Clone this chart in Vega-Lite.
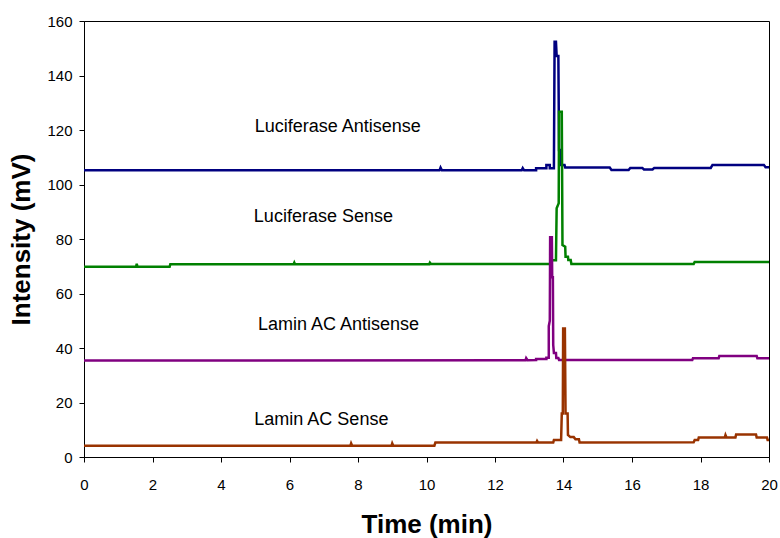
{
  "$schema": "https://vega.github.io/schema/vega-lite/v6.json",
  "width": 685,
  "height": 436,
  "autosize": {"type": "none"},
  "padding": {"left": 84, "top": 21, "right": 11, "bottom": 81},
  "background": "white",
  "config": {
    "font": "Liberation Sans",
    "view": {"stroke": "black", "strokeWidth": 1},
    "axis": {"grid": false, "domainColor": "black", "tickColor": "black", "labelColor": "black", "titleColor": "black", "labelFont": "Liberation Sans", "titleFont": "Liberation Sans"}
  },
  "datasets": {
    "lines": [
      {"series": "LA", "t": 0, "v": 105.2}, {"series": "LA", "t": 10.38, "v": 105.2}, {"series": "LA", "t": 10.41, "v": 106.2}, {"series": "LA", "t": 10.45, "v": 105.2},
      {"series": "LA", "t": 12.78, "v": 105.2}, {"series": "LA", "t": 12.81, "v": 106.0}, {"series": "LA", "t": 12.85, "v": 105.2},
      {"series": "LA", "t": 13.2, "v": 105.2}, {"series": "LA", "t": 13.2, "v": 106.0}, {"series": "LA", "t": 13.5, "v": 106.0}, {"series": "LA", "t": 13.5, "v": 107.2}, {"series": "LA", "t": 13.6, "v": 107.2}, {"series": "LA", "t": 13.6, "v": 106.0},
      {"series": "LA", "t": 13.72, "v": 106.0}, {"series": "LA", "t": 13.74, "v": 152.4}, {"series": "LA", "t": 13.78, "v": 152.4}, {"series": "LA", "t": 13.8, "v": 147.2}, {"series": "LA", "t": 13.85, "v": 147.2},
      {"series": "LA", "t": 13.87, "v": 112.7}, {"series": "LA", "t": 13.92, "v": 112.7}, {"series": "LA", "t": 13.93, "v": 107.2}, {"series": "LA", "t": 14.03, "v": 107.2}, {"series": "LA", "t": 14.05, "v": 106.2},
      {"series": "LA", "t": 15.35, "v": 106.2}, {"series": "LA", "t": 15.4, "v": 105.3}, {"series": "LA", "t": 15.9, "v": 105.3}, {"series": "LA", "t": 15.95, "v": 106.1}, {"series": "LA", "t": 16.3, "v": 106.1}, {"series": "LA", "t": 16.35, "v": 105.5}, {"series": "LA", "t": 16.6, "v": 105.5}, {"series": "LA", "t": 16.65, "v": 106.1},
      {"series": "LA", "t": 18.3, "v": 106.1}, {"series": "LA", "t": 18.35, "v": 107.2}, {"series": "LA", "t": 19.85, "v": 107.2}, {"series": "LA", "t": 19.9, "v": 106.3}, {"series": "LA", "t": 20, "v": 106.3},

      {"series": "LS", "t": 0, "v": 69.8}, {"series": "LS", "t": 1.52, "v": 69.8}, {"series": "LS", "t": 1.54, "v": 70.9}, {"series": "LS", "t": 1.56, "v": 69.8}, {"series": "LS", "t": 2.5, "v": 69.8}, {"series": "LS", "t": 2.52, "v": 70.7},
      {"series": "LS", "t": 6.12, "v": 70.7}, {"series": "LS", "t": 6.14, "v": 71.3}, {"series": "LS", "t": 6.16, "v": 70.7}, {"series": "LS", "t": 10.08, "v": 70.7}, {"series": "LS", "t": 10.1, "v": 71.3}, {"series": "LS", "t": 10.13, "v": 70.8},
      {"series": "LS", "t": 13.62, "v": 70.8}, {"series": "LS", "t": 13.64, "v": 72.2}, {"series": "LS", "t": 13.78, "v": 72.2}, {"series": "LS", "t": 13.8, "v": 91.3}, {"series": "LS", "t": 13.86, "v": 93.1},
      {"series": "LS", "t": 13.87, "v": 126.7}, {"series": "LS", "t": 13.95, "v": 126.7}, {"series": "LS", "t": 13.97, "v": 77.8}, {"series": "LS", "t": 14.05, "v": 77.2}, {"series": "LS", "t": 14.06, "v": 73.5}, {"series": "LS", "t": 14.13, "v": 73.5}, {"series": "LS", "t": 14.14, "v": 72.3}, {"series": "LS", "t": 14.21, "v": 72.3}, {"series": "LS", "t": 14.23, "v": 70.8},
      {"series": "LS", "t": 17.8, "v": 70.8}, {"series": "LS", "t": 17.83, "v": 71.6}, {"series": "LS", "t": 20, "v": 71.6},

      {"series": "LAA", "t": 0, "v": 35.4}, {"series": "LAA", "t": 12.89, "v": 35.5}, {"series": "LAA", "t": 12.91, "v": 36.3}, {"series": "LAA", "t": 12.95, "v": 35.5},
      {"series": "LAA", "t": 13.2, "v": 35.6}, {"series": "LAA", "t": 13.2, "v": 36.0}, {"series": "LAA", "t": 13.5, "v": 36.0}, {"series": "LAA", "t": 13.5, "v": 36.4}, {"series": "LAA", "t": 13.57, "v": 36.4},
      {"series": "LAA", "t": 13.57, "v": 48.0}, {"series": "LAA", "t": 13.6, "v": 50.0}, {"series": "LAA", "t": 13.61, "v": 80.6}, {"series": "LAA", "t": 13.66, "v": 80.6}, {"series": "LAA", "t": 13.67, "v": 66.0}, {"series": "LAA", "t": 13.69, "v": 66.0},
      {"series": "LAA", "t": 13.7, "v": 41.1}, {"series": "LAA", "t": 13.72, "v": 38.2}, {"series": "LAA", "t": 13.78, "v": 38.2}, {"series": "LAA", "t": 13.79, "v": 36.3}, {"series": "LAA", "t": 13.85, "v": 36.3}, {"series": "LAA", "t": 13.87, "v": 35.6},
      {"series": "LAA", "t": 17.76, "v": 35.6}, {"series": "LAA", "t": 17.78, "v": 36.2}, {"series": "LAA", "t": 18.53, "v": 36.2}, {"series": "LAA", "t": 18.55, "v": 37.1}, {"series": "LAA", "t": 19.64, "v": 37.1}, {"series": "LAA", "t": 19.66, "v": 36.2}, {"series": "LAA", "t": 20, "v": 36.2},

      {"series": "LACS", "t": 0, "v": 4.15}, {"series": "LACS", "t": 7.78, "v": 4.15}, {"series": "LACS", "t": 7.8, "v": 5.0}, {"series": "LACS", "t": 7.83, "v": 4.15}, {"series": "LACS", "t": 8.98, "v": 4.15}, {"series": "LACS", "t": 9.0, "v": 5.0}, {"series": "LACS", "t": 9.03, "v": 4.15},
      {"series": "LACS", "t": 10.23, "v": 4.15}, {"series": "LACS", "t": 10.26, "v": 5.3}, {"series": "LACS", "t": 13.21, "v": 5.3}, {"series": "LACS", "t": 13.23, "v": 5.9}, {"series": "LACS", "t": 13.26, "v": 5.3},
      {"series": "LACS", "t": 13.7, "v": 5.3}, {"series": "LACS", "t": 13.72, "v": 6.2}, {"series": "LACS", "t": 13.93, "v": 6.2}, {"series": "LACS", "t": 13.95, "v": 16.0}, {"series": "LACS", "t": 13.98, "v": 16.0},
      {"series": "LACS", "t": 13.99, "v": 47.2}, {"series": "LACS", "t": 14.04, "v": 47.2}, {"series": "LACS", "t": 14.06, "v": 16.0}, {"series": "LACS", "t": 14.12, "v": 16.0}, {"series": "LACS", "t": 14.13, "v": 8.1},
      {"series": "LACS", "t": 14.2, "v": 7.3}, {"series": "LACS", "t": 14.3, "v": 7.3}, {"series": "LACS", "t": 14.35, "v": 6.5}, {"series": "LACS", "t": 14.45, "v": 6.5}, {"series": "LACS", "t": 14.47, "v": 5.3},
      {"series": "LACS", "t": 17.8, "v": 5.4}, {"series": "LACS", "t": 17.83, "v": 6.2}, {"series": "LACS", "t": 17.93, "v": 6.2}, {"series": "LACS", "t": 17.95, "v": 7.2}, {"series": "LACS", "t": 18.71, "v": 7.2}, {"series": "LACS", "t": 18.73, "v": 8.1}, {"series": "LACS", "t": 18.76, "v": 7.2},
      {"series": "LACS", "t": 19.02, "v": 7.2}, {"series": "LACS", "t": 19.04, "v": 8.3}, {"series": "LACS", "t": 19.62, "v": 8.3}, {"series": "LACS", "t": 19.64, "v": 7.2}, {"series": "LACS", "t": 19.94, "v": 7.2}, {"series": "LACS", "t": 19.96, "v": 6.2}, {"series": "LACS", "t": 20, "v": 6.2}
    ],
    "labels": [
      {"t": 7.41, "v": 121, "label": "Luciferase Antisense"},
      {"t": 6.99, "v": 88, "label": "Luciferase Sense"},
      {"t": 7.43, "v": 48.4, "label": "Lamin AC Antisense"},
      {"t": 6.93, "v": 13.6, "label": "Lamin AC Sense"}
    ]
  },
  "layer": [
    {
      "data": {"name": "lines"},
      "mark": {"type": "line", "strokeWidth": 2.5, "interpolate": "linear"},
      "encoding": {
        "x": {"field": "t", "type": "quantitative", "scale": {"domain": [0, 20], "nice": false},
          "axis": {"title": "Time (min)", "values": [0, 2, 4, 6, 8, 10, 12, 14, 16, 18, 20], "tickSize": 5, "labelFontSize": 15, "labelPadding": 15, "titleFontSize": 26, "titleFontWeight": "bold", "titlePadding": 19, "labelFlush": false}},
        "y": {"field": "v", "type": "quantitative", "scale": {"domain": [0, 160], "nice": false},
          "axis": {"title": "Intensity (mV)", "values": [0, 20, 40, 60, 80, 100, 120, 140, 160], "tickSize": 5, "labelFontSize": 15, "labelPadding": 7, "titleFontSize": 26, "titleFontWeight": "bold", "titlePadding": 12, "labelFlush": false}},
        "color": {"field": "series", "type": "nominal", "legend": null,
          "scale": {"domain": ["LA", "LS", "LAA", "LACS"], "range": ["#000080", "#008000", "#800080", "#993300"]}},
        "detail": {"field": "series"},
        "order": {"field": "t", "type": "quantitative"}
      }
    },
    {
      "data": {"name": "labels"},
      "mark": {"type": "text", "fontSize": 18, "font": "Liberation Sans", "color": "black", "align": "center", "baseline": "middle"},
      "encoding": {
        "x": {"field": "t", "type": "quantitative"},
        "y": {"field": "v", "type": "quantitative"},
        "text": {"field": "label"}
      }
    }
  ]
}
